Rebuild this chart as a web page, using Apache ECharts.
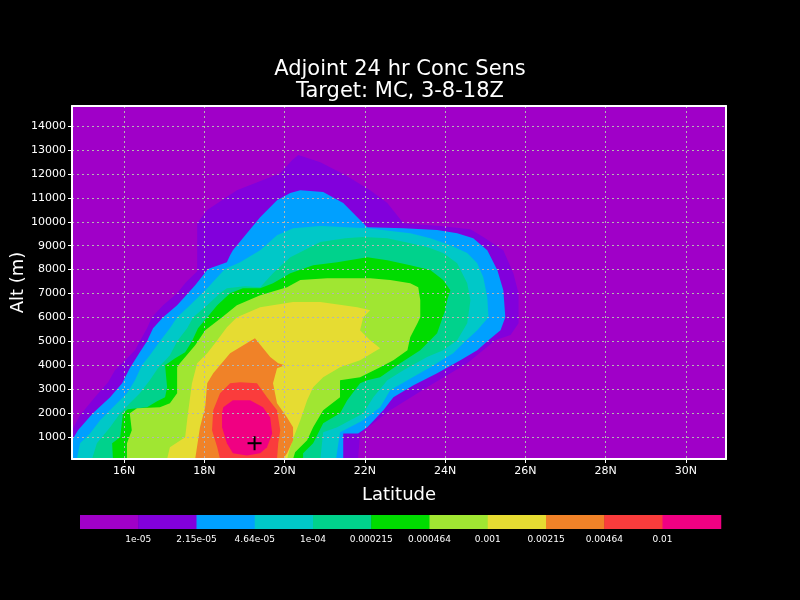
<!DOCTYPE html>
<html><head><meta charset="utf-8">
<script src="https://cdn.jsdelivr.net/npm/echarts@6/dist/echarts.min.js"></script>
<style>html,body{margin:0;padding:0;background:#000;}#c{width:800px;height:600px;}</style>
</head><body><div id="c"></div>
<script>
// ---- axis ticks ----
const latTicks = [16, 18, 20, 22, 24, 26, 28, 30];
const altTicks = [1000, 2000, 3000, 4000, 5000, 6000, 7000, 8000, 9000, 10000, 11000, 12000, 13000, 14000];
const latRange = [14.7, 31.0];
const altRange = [80, 14840];

// ---- contour levels (shading) ----
const levelLabels = ['1e-05', '2.15e-05', '4.64e-05', '1e-04', '0.000215', '0.000464', '0.001', '0.00215', '0.00464', '0.01'];
const levelColors = ['#a000c8', '#8200dc', '#00a0ff', '#00c8c8', '#00d28c', '#00dc00', '#a0e632', '#e6dc32', '#f08228', '#fa3c3c', '#f00082'];

// Region boundaries (latitude, altitude m) where sensitivity >= each level
const region_1e05 = [[14.70,80],[14.70,1280],[14.90,1910],[15.27,2660],[15.60,3290],[15.77,3790],[16.07,4290],[16.27,4630],[16.39,5000],[16.57,5550],[16.69,6010],[16.97,6510],[17.32,7010],[17.54,7470],[17.82,7930],[17.82,9940],[18.07,10490],[18.81,11320],[19.89,12030],[20.19,12580],[20.34,12790],[20.89,12490],[21.51,11950],[22.13,11320],[22.56,10780],[22.96,9940],[23.88,9820],[24.63,9690],[24.95,9360],[25.45,8810],[25.70,7850],[25.83,7010],[25.83,5760],[25.63,5260],[25.25,5050],[24.55,4080],[23.55,3080],[22.63,2120],[21.88,1150],[21.83,80]];
const region_215e05 = [[14.70,80],[14.70,860],[14.85,1280],[15.22,1990],[15.65,2660],[15.95,3250],[16.14,3870],[16.39,4540],[16.57,5000],[16.72,5550],[16.97,6010],[17.32,6510],[17.59,7010],[17.77,7350],[18.09,8020],[18.56,8310],[18.64,8600],[18.71,8810],[19.06,9520],[19.39,10190],[19.81,10900],[20.14,11200],[20.39,11320],[20.96,11240],[21.46,10780],[21.88,10070],[22.06,9770],[22.96,9730],[23.80,9650],[24.30,9520],[24.70,9310],[25.05,8810],[25.30,7980],[25.45,7140],[25.50,6010],[25.38,5460],[25.08,5050],[24.80,4630],[24.38,4210],[23.80,3670],[23.21,3160],[22.71,2660],[22.46,2120],[22.06,1410],[21.83,1150],[21.46,1150],[21.46,80]];
const region_464e05 = [[14.82,80],[14.90,740],[15.15,1150],[15.40,1700],[15.72,2240],[16.07,2830],[16.27,3370],[16.44,4000],[16.64,4420],[16.89,5000],[17.14,5550],[17.32,6010],[17.64,6510],[17.94,7010],[18.07,7220],[18.51,8020],[18.89,8310],[19.39,8810],[19.81,9440],[20.21,9730],[20.89,9820],[21.56,9770],[22.06,9730],[23.13,9520],[23.63,9310],[24.13,9020],[24.55,8690],[24.80,8270],[24.95,7680],[25.05,6850],[25.08,6010],[24.80,5460],[24.45,4920],[24.20,4500],[23.63,3920],[23.06,3370],[22.63,2950],[22.38,2240],[21.96,1700],[21.38,1200],[21.28,80]];
const region_1e04 = [[15.20,80],[15.32,740],[15.65,1410],[15.90,1990],[16.14,2410],[16.39,2830],[16.64,3370],[16.84,3870],[17.14,4420],[17.32,5000],[17.57,5550],[17.72,6010],[18.07,6510],[18.39,7010],[18.56,7220],[19.01,7300],[19.39,7260],[19.71,7850],[20.14,8520],[20.39,8730],[20.89,9150],[21.51,9310],[21.96,9360],[22.56,9310],[23.13,9100],[23.55,8940],[23.95,8690],[24.30,8270],[24.55,7430],[24.63,6720],[24.55,5760],[24.30,5050],[23.95,4630],[23.55,4340],[22.96,3790],[22.56,3370],[22.21,2660],[21.96,1990],[21.31,1410],[20.96,1200],[20.89,80]];
const region_215e04 = [[15.72,80],[15.70,740],[15.90,990],[15.97,1990],[16.09,2160],[16.57,2240],[16.82,2490],[17.02,2660],[17.07,3080],[17.02,4000],[17.27,4290],[17.52,4540],[17.69,5000],[17.84,5550],[18.07,6010],[18.32,6510],[18.64,7010],[18.96,7220],[19.39,7220],[19.71,7430],[20.14,7850],[20.71,8180],[21.31,8310],[22.06,8520],[22.56,8390],[23.13,8180],[23.63,7980],[23.95,7560],[24.13,7140],[24.05,6720],[24.00,6300],[23.80,5340],[23.38,4630],[22.88,4080],[22.38,3500],[22.06,3370],[21.88,3250],[21.56,2540],[21.38,1990],[20.96,1570],[20.71,740],[20.46,320],[20.46,80]];
const region_464e04 = [[16.07,80],[16.07,740],[16.19,1280],[16.14,1990],[16.32,2200],[16.89,2240],[17.14,2410],[17.32,2830],[17.32,3920],[17.39,4080],[17.77,4840],[18.02,5460],[18.44,6010],[18.81,6510],[19.39,6930],[20.06,7260],[20.39,7560],[21.06,7640],[22.13,7640],[22.63,7560],[23.13,7430],[23.33,7260],[23.38,6720],[23.38,6010],[23.31,5760],[23.13,5170],[23.06,4630],[22.71,4210],[22.38,3920],[21.88,3500],[21.38,3370],[21.38,2660],[20.96,2120],[20.71,1410],[20.56,860],[20.26,360],[20.21,80]];
const region_1e03 = [[17.07,80],[17.14,570],[17.52,990],[17.59,1990],[17.69,3250],[17.82,4080],[18.07,4500],[18.32,5050],[18.56,5590],[18.81,6010],[19.39,6430],[20.21,6640],[20.89,6640],[21.46,6510],[21.81,6430],[22.13,6300],[21.96,6010],[21.88,5460],[22.13,5050],[22.38,4710],[21.88,4210],[21.38,3920],[20.96,3500],[20.71,3080],[20.56,2540],[20.39,1700],[20.26,1150],[20.14,570],[20.06,80]];
const region_215e03 = [[17.77,80],[17.89,1410],[18.02,2240],[18.07,3250],[18.22,3670],[18.64,4500],[19.26,5130],[19.64,4340],[19.84,4080],[20.01,4000],[19.81,3870],[19.71,3250],[19.81,2410],[20.06,1820],[20.21,1410],[20.21,860],[20.06,320],[19.96,80]];
const region_464e03 = [[18.39,80],[18.32,570],[18.19,1280],[18.22,2120],[18.39,2830],[18.64,3250],[18.89,3290],[19.31,3250],[19.56,2660],[19.81,2120],[19.89,1280],[19.84,740],[19.81,80]];
const region_1e02 = [[18.44,1990],[18.47,2240],[18.71,2540],[19.14,2540],[19.46,2240],[19.64,1820],[19.69,1150],[19.56,570],[19.39,320],[19.06,230],[18.71,320],[18.56,740],[18.44,1410]];

const targetPoint = [19.25, 740];

const regions = [region_1e05, region_215e05, region_464e05, region_1e04, region_215e04, region_464e04, region_1e03, region_215e03, region_464e03, region_1e02];

const FONT = 'DejaVu Sans';
const chart = echarts.init(document.getElementById('c'), null, {renderer: 'canvas'});

// colour bar
const barLeft = 80, barTop = 515, boxW = 58.25, boxH = 14;
const barGraphics = [];
levelColors.forEach((c, i) => {
  barGraphics.push({type: 'rect', x: barLeft + boxW * i, y: barTop, shape: {width: boxW + 0.5, height: boxH}, style: {fill: c}, silent: true});
});
levelLabels.forEach((t, i) => {
  barGraphics.push({type: 'text', x: barLeft + boxW * (i + 1), y: 540, style: {text: t, fill: '#fff', font: '9px ' + FONT, align: 'center', verticalAlign: 'middle'}, silent: true});
});

const gridLine = {show: true, lineStyle: {color: '#b4b4b4', type: [2, 3], width: 1}};
const frame = {show: true, onZero: false, lineStyle: {color: '#fff', width: 2}};

chart.setOption({
  backgroundColor: '#000',
  animation: false,
  title: {
    text: 'Adjoint 24 hr Conc Sens\nTarget: MC, 3-8-18Z',
    left: 'center', top: 54,
    textStyle: {color: '#fff', fontFamily: FONT, fontSize: 21, fontWeight: 'normal', lineHeight: 22}
  },
  grid: {left: 72, right: 74, top: 106, bottom: 141, show: true, backgroundColor: levelColors[0], borderWidth: 0,
         containLabel: false, outerBoundsMode: 'none'},
  xAxis: [{
    type: 'value', min: latRange[0], max: latRange[1], position: 'bottom', z: 10,
    name: 'Latitude', nameLocation: 'middle', nameGap: 27, nameMoveOverlap: false,
    nameTextStyle: {color: '#fff', fontFamily: FONT, fontSize: 18},
    axisLine: frame,
    axisTick: {show: true, customValues: latTicks, length: 4, lineStyle: {color: '#fff', width: 1}},
    axisLabel: {customValues: latTicks, formatter: v => v + 'N', color: '#fff', fontFamily: FONT, fontSize: 11, margin: 7},
    splitLine: gridLine
  }, {
    type: 'value', min: latRange[0], max: latRange[1], position: 'top', z: 10,
    axisLine: frame, axisTick: {show: false}, axisLabel: {show: false}, splitLine: {show: false}
  }],
  yAxis: [{
    type: 'value', min: altRange[0], max: altRange[1], position: 'left', z: 10,
    name: 'Alt (m)', nameLocation: 'middle', nameGap: 45, nameMoveOverlap: false,
    nameTextStyle: {color: '#fff', fontFamily: FONT, fontSize: 18},
    axisLine: frame,
    axisTick: {show: true, customValues: altTicks, length: 4, lineStyle: {color: '#fff', width: 1}},
    axisLabel: {customValues: altTicks, formatter: v => String(v), color: '#fff', fontFamily: FONT, fontSize: 11, margin: 6},
    splitLine: gridLine
  }, {
    type: 'value', min: altRange[0], max: altRange[1], position: 'right', z: 10,
    axisLine: frame, axisTick: {show: false}, axisLabel: {show: false}, splitLine: {show: false}
  }],
  graphic: barGraphics,
  series: [{
    type: 'custom',
    coordinateSystem: 'cartesian2d',
    silent: true,
    clip: true,
    encode: {x: 0, y: 1},
    data: regions.map((r, i) => [r[0][0], r[0][1], i]),
    renderItem: function (params, api) {
      const i = api.value(2);
      const pts = regions[i].map(p => api.coord(p));
      return {type: 'polygon', shape: {points: pts}, style: {fill: levelColors[i + 1]}};
    }
  }, {
    type: 'custom',
    coordinateSystem: 'cartesian2d',
    silent: true,
    z: 5,
    encode: {x: 0, y: 1},
    data: [targetPoint],
    renderItem: function (params, api) {
      const c = api.coord([api.value(0), api.value(1)]);
      const s = 7;
      return {type: 'group', children: [
        {type: 'line', shape: {x1: c[0] - s, y1: c[1], x2: c[0] + s, y2: c[1]}, style: {stroke: '#000', lineWidth: 2}},
        {type: 'line', shape: {x1: c[0], y1: c[1] - s, x2: c[0], y2: c[1] + s}, style: {stroke: '#000', lineWidth: 2}}
      ]};
    }
  }]
});
</script>
</body></html>
